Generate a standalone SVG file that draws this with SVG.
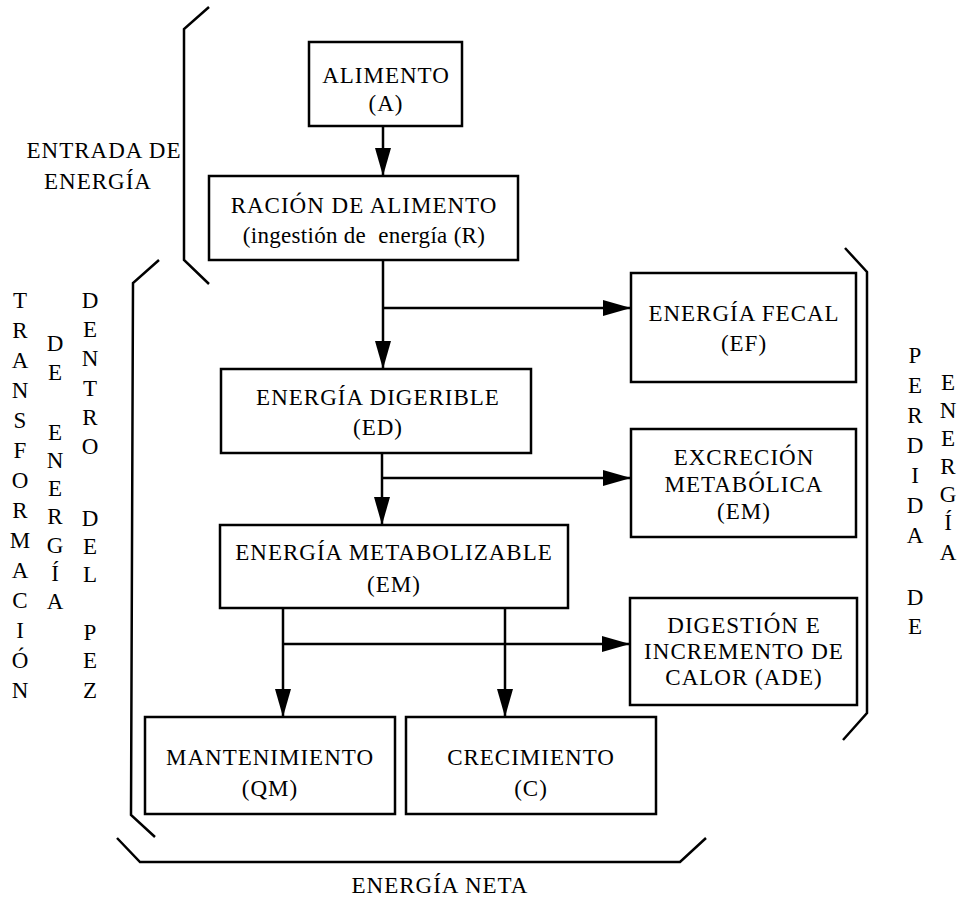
<svg xmlns="http://www.w3.org/2000/svg" width="970" height="916" viewBox="0 0 970 916">
<style>
  .box { fill: #fff; stroke: #000; stroke-width: 2.5; }
  .t { font-family: "Liberation Serif", "Times New Roman", serif; font-size: 23px; letter-spacing: 1px; fill: #000; text-anchor: middle; }
  .v { font-family: "Liberation Serif", "Times New Roman", serif; font-size: 23px; fill: #000; text-anchor: middle; }
  .ln { fill: none; stroke: #000; stroke-width: 2.5; }
  .br { fill: none; stroke: #000; stroke-width: 2.5; stroke-linejoin: miter; }
</style>
<defs>
  <marker id="arr" markerUnits="userSpaceOnUse" markerWidth="30" markerHeight="18" refX="28" refY="8" orient="auto">
    <path d="M0,0 L28,8 L0,16 z" fill="#000"/>
  </marker>
</defs>
<rect width="970" height="916" fill="#fff"/>

<g id="connectors">
  <line class="ln" x1="383" y1="126" x2="383" y2="176" marker-end="url(#arr)"/>
  <line class="ln" x1="383" y1="260" x2="383" y2="369" marker-end="url(#arr)"/>
  <line class="ln" x1="383" y1="308" x2="631" y2="308" marker-end="url(#arr)"/>
  <line class="ln" x1="382" y1="453" x2="382" y2="525" marker-end="url(#arr)"/>
  <line class="ln" x1="382" y1="478" x2="631" y2="478" marker-end="url(#arr)"/>
  <line class="ln" x1="283" y1="608" x2="283" y2="717" marker-end="url(#arr)"/>
  <line class="ln" x1="505" y1="608" x2="505" y2="717" marker-end="url(#arr)"/>
  <line class="ln" x1="283" y1="644" x2="630" y2="644" marker-end="url(#arr)"/>
</g>

<g id="brackets">
  <path class="br" d="M209,7 L184,29 L184,260 L209,284"/>
  <path class="br" d="M159,260 L133,283 L131,815 L155,837"/>
  <path class="br" d="M845,248 L867,272 L867,713 L843,740"/>
  <path class="br" d="M117,838 L140,862 L680,862 L706,838"/>
</g>

<g id="alimento">
  <rect class="box" x="309" y="42" width="153" height="84"/>
  <text class="t" x="386" y="83">ALIMENTO</text>
  <text class="t" x="386" y="111">(A)</text>
</g>
<g id="racion">
  <rect class="box" x="209" y="176" width="309" height="84"/>
  <text class="t" x="364" y="213">RACIÓN DE ALIMENTO</text>
  <text class="t" x="364" y="243" style="letter-spacing:0.3px" xml:space="preserve">(ingestión de  energía (R)</text>
</g>
<g id="fecal">
  <rect class="box" x="631" y="273" width="225" height="109"/>
  <text class="t" x="744" y="321">ENERGÍA FECAL</text>
  <text class="t" x="744" y="351">(EF)</text>
</g>
<g id="digerible">
  <rect class="box" x="221" y="369" width="310" height="84"/>
  <text class="t" x="378" y="405">ENERGÍA DIGERIBLE</text>
  <text class="t" x="378" y="435">(ED)</text>
</g>
<g id="excrecion">
  <rect class="box" x="631" y="429" width="225" height="108"/>
  <text class="t" x="744" y="465">EXCRECIÓN</text>
  <text class="t" x="744" y="492">METABÓLICA</text>
  <text class="t" x="744" y="519">(EM)</text>
</g>
<g id="metabolizable">
  <rect class="box" x="220" y="525" width="348" height="83"/>
  <text class="t" x="394" y="560">ENERGÍA METABOLIZABLE</text>
  <text class="t" x="394" y="592">(EM)</text>
</g>
<g id="digestion">
  <rect class="box" x="630" y="598" width="227" height="107"/>
  <text class="t" x="744" y="633">DIGESTIÓN E</text>
  <text class="t" x="744" y="659">INCREMENTO DE</text>
  <text class="t" x="744" y="685">CALOR (ADE)</text>
</g>
<g id="mantenimiento">
  <rect class="box" x="145" y="717" width="250" height="97"/>
  <text class="t" x="270" y="765">MANTENIMIENTO</text>
  <text class="t" x="270" y="796">(QM)</text>
</g>
<g id="crecimiento">
  <rect class="box" x="406" y="717" width="250" height="97"/>
  <text class="t" x="531" y="765">CRECIMIENTO</text>
  <text class="t" x="531" y="796">(C)</text>
</g>

<g id="labels">
  <text class="t" x="104" y="158">ENTRADA DE</text>
  <text class="t" x="98" y="189">ENERGÍA</text>
  <text class="t" x="440" y="893">ENERGÍA NETA</text>

  <g class="v">
    <text x="20" y="308">T</text><text x="20" y="338">R</text><text x="20" y="368">A</text><text x="20" y="398">N</text>
    <text x="20" y="428">S</text><text x="20" y="458">F</text><text x="20" y="488">O</text><text x="20" y="518">R</text>
    <text x="20" y="548">M</text><text x="20" y="578">A</text><text x="20" y="608">C</text><text x="20" y="638">I</text>
    <text x="20" y="668">Ó</text><text x="20" y="698">N</text>

    <text x="55" y="351">D</text><text x="55" y="380">E</text>
    <text x="55" y="440">E</text><text x="55" y="468">N</text><text x="55" y="496">E</text><text x="55" y="524">R</text>
    <text x="55" y="553">G</text><text x="55" y="581">Í</text><text x="55" y="609">A</text>

    <text x="90" y="308">D</text><text x="90" y="337">E</text><text x="90" y="366">N</text><text x="90" y="396">T</text>
    <text x="90" y="425">R</text><text x="90" y="454">O</text>
    <text x="90" y="526">D</text><text x="90" y="554">E</text><text x="90" y="582">L</text>
    <text x="90" y="640">P</text><text x="90" y="668">E</text><text x="90" y="698">Z</text>

    <text x="915" y="363">P</text><text x="915" y="393">E</text><text x="915" y="423">R</text><text x="915" y="453">D</text>
    <text x="915" y="483">I</text><text x="915" y="513">D</text><text x="915" y="543">A</text>
    <text x="915" y="605">D</text><text x="915" y="634">E</text>

    <text x="948" y="390">E</text><text x="948" y="418">N</text><text x="948" y="446">E</text><text x="948" y="474">R</text>
    <text x="948" y="502">G</text><text x="948" y="530">Í</text><text x="948" y="560">A</text>
  </g>
</g>
</svg>
